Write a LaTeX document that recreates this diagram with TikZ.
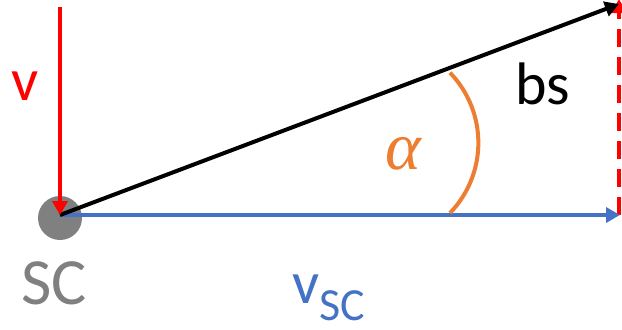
\documentclass[tikz,border=0pt]{standalone}
\usepackage{fontspec}
\setmainfont{Carlito}
\newfontfamily\greekfont{Liberation Serif}
\usetikzlibrary{arrows.meta}
\definecolor{vred}{RGB}{255,0,0}
\definecolor{vblue}{RGB}{68,114,196}
\definecolor{arcorange}{RGB}{237,125,49}
\definecolor{scgray}{RGB}{128,128,128}

\begin{document}
\begin{tikzpicture}[x=0.5pt, y=0.5pt, line join=miter]
\tikzset{vec/.style={-{Triangle[length=7pt,width=7.5pt]}, line width=2pt},
         lbl/.style={inner sep=0pt, font=\fontsize{30}{30}\selectfont}}
\useasboundingbox (0,0) rectangle (622,329);

% points (px, y up)
\coordinate (SC)   at (60,114);
\coordinate (Vtop) at (60,322);
\coordinate (BS)   at (619,325);
\coordinate (VSC)  at (620,114);
\coordinate (Rtop) at (619,330);
\coordinate (Rbot) at (619,114);

% spacecraft
\fill[scgray] (60,111) circle (22);

% vectors
\draw[vec, vred, dash pattern=on 9pt off 5pt] (Rbot) -- (Rtop);
\draw[vec, vblue] (SC) -- (VSC);
\draw[vec, black] (SC) -- (BS);
\draw[vec, vred] (Vtop) -- (SC);

% angle
\draw[arcorange, line width=2pt] (450,116) arc[start angle=-44, end angle=44, radius=101];

% labels
\node[lbl, text=vred] (vlab) at (25,243) {v};
\node[lbl, text=black] (bslab) at (543,245) {bs};
\node[lbl, text=arcorange, font=\fontsize{34}{34}\selectfont\greekfont\itshape] (alab) at (403,175) {α};
\node[lbl, text=scgray, font=\fontsize{33}{33}\selectfont] (sclab) at (54,46) {SC};
\node[lbl, text=vblue, anchor=base west] (vsclab) at (292,26)
  {v\raisebox{-8.5pt}{\fontsize{23}{23}\selectfont SC}};
\end{tikzpicture}
\end{document}
